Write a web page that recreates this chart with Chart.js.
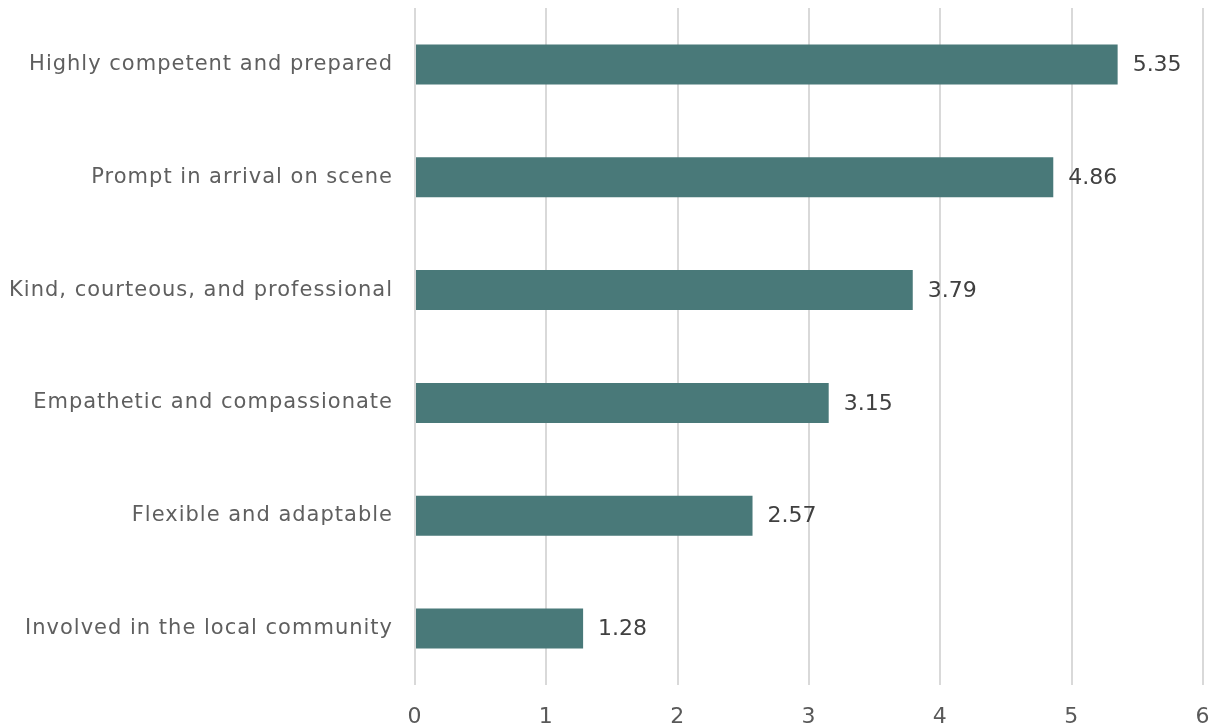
<!DOCTYPE html>
<html>
<head>
<meta charset="utf-8">
<script src="https://cdn.jsdelivr.net/npm/chart.js@4"></script>
<style>
html,body{margin:0;padding:0;background:#fff;}
#wrap{width:1213px;height:727px;position:relative;}
</style>
</head>
<body>
<div id="wrap"><canvas id="c" width="1213" height="727"></canvas></div>
<script>
const categories = [
  "Highly competent and prepared",
  "Prompt in arrival on scene",
  "Kind, courteous, and professional",
  "Empathetic and compassionate",
  "Flexible and adaptable",
  "Involved in the local community"
];
const values = [5.35, 4.86, 3.79, 3.15, 2.57, 1.28];
const xTicks = [0, 1, 2, 3, 4, 5, 6];

const FONT = "'DejaVu Sans', sans-serif";

const spacing = {
  id: 'spacing',
  beforeDraw(chart) { chart.ctx.letterSpacing = '1px'; }
};

const valueLabels = {
  id: 'valueLabels',
  afterDatasetsDraw(chart) {
    const ctx = chart.ctx;
    const meta = chart.getDatasetMeta(0);
    ctx.save();
    ctx.letterSpacing = '0px';
    ctx.font = "22px " + FONT;
    ctx.fillStyle = '#404040';
    ctx.textAlign = 'left';
    ctx.textBaseline = 'middle';
    meta.data.forEach((bar, i) => {
      ctx.fillText(values[i].toFixed(2), bar.x + 15, bar.y + 1);
    });
    ctx.restore();
  }
};

new Chart(document.getElementById('c'), {
  type: 'bar',
  data: {
    labels: categories,
    datasets: [{
      data: values,
      backgroundColor: '#497979',
      borderWidth: 0,
      barPercentage: 0.355,
      categoryPercentage: 1.0
    }]
  },
  options: {
    indexAxis: 'y',
    responsive: false,
    animation: false,
    layout: { padding: { top: 8, right: 10, left: 0, bottom: 0 } },
    plugins: { legend: { display: false }, tooltip: { enabled: false } },
    scales: {
      x: {
        min: 0, max: 6,
        afterBuildTicks(scale) { scale.ticks = xTicks.map(v => ({ value: v })); },
        afterFit(scale) { scale.height = 42; scale.paddingLeft = 0; scale.paddingRight = 0; },
        grid: { color: '#d9d9d9', lineWidth: 2, drawTicks: false },
        border: { display: false },
        ticks: { color: '#595959', font: { family: FONT, size: 22 }, padding: 19 }
      },
      y: {
        afterFit(scale) { scale.width = 415; scale.paddingTop = 0; scale.paddingBottom = 0; },
        grid: { display: false, drawTicks: false },
        border: { display: false },
        ticks: { color: '#5f5f5f', font: { family: FONT, size: 21 }, padding: 22 }
      }
    }
  },
  plugins: [spacing, valueLabels]
});
</script>
</body>
</html>
